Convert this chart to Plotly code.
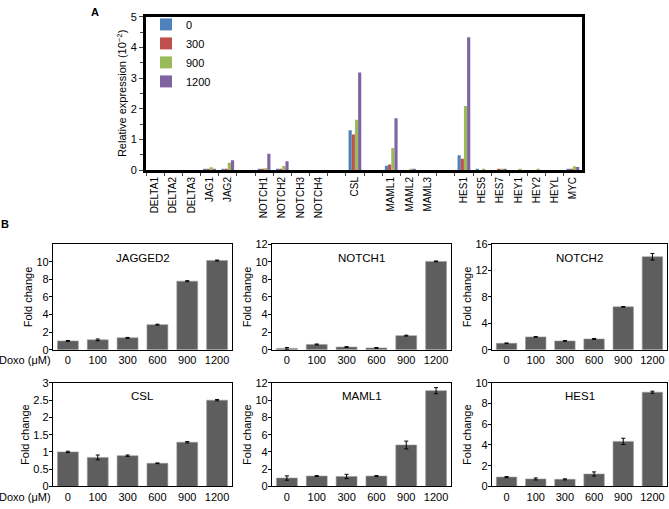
import plotly.graph_objects as go

# ---- panel A data (relative expression, x10^-2) ----
genes = ["DELTA1", "DELTA2", "DELTA3", "JAG1", "JAG2", " ",
         "NOTCH1", "NOTCH2", "NOTCH3", "NOTCH4", "  ",
         "CSL", "   ", "MAML1", "MAML2", "MAML3", "    ",
         "HES1", "HES5", "HES7", "HEY1", "HEY2", "HEYL", "MYC"]
doses_a = ["0", "300", "900", "1200"]
expr_0 = [0.0, 0.0, 0.0, 0.01, 0.01, None, 0.01, 0.02, 0.0, 0.0, None,
          1.30, None, 0.14, 0.0, 0.0, None, 0.48, 0.01, 0.0, 0.0, 0.0, 0.0, 0.01]
expr_300 = [0.0, 0.0, 0.0, 0.01, 0.02, None, 0.01, 0.02, 0.0, 0.0, None,
            1.16, None, 0.18, 0.0, 0.0, None, 0.37, 0.0, 0.01, 0.0, 0.0, 0.0, 0.01]
expr_900 = [0.0, 0.0, 0.0, 0.09, 0.24, None, 0.06, 0.13, 0.0, 0.0, None,
            1.64, None, 0.72, 0.02, 0.0, None, 2.09, 0.01, 0.03, 0.02, 0.02, 0.0, 0.12]
expr_1200 = [0.0, 0.0, 0.0, 0.04, 0.32, None, 0.53, 0.29, 0.0, 0.0, None,
             3.18, None, 1.69, 0.01, 0.0, None, 4.33, 0.0, 0.01, 0.0, 0.0, 0.0, 0.10]
colors_a = ["#4F81BD", "#C0504D", "#9BBB59", "#8064A2"]

# ---- panel B data (fold change) ----
doxo = ["0", "100", "300", "600", "900", "1200"]
panels = ["JAGGED2", "NOTCH1", "NOTCH2", "CSL", "MAML1", "HES1"]
jag2 = [1.0, 1.12, 1.35, 2.85, 7.8, 10.15]
jag2_err = [0.05, 0.1, 0.05, 0.05, 0.05, 0.05]
notch1 = [0.15, 0.6, 0.3, 0.2, 1.6, 10.05]
notch1_err = [0.1, 0.05, 0.05, 0.05, 0.05, 0.05]
notch2 = [0.97, 1.94, 1.33, 1.63, 6.5, 14.1]
notch2_err = [0.05, 0.05, 0.05, 0.08, 0.05, 0.5]
csl = [1.0, 0.84, 0.89, 0.67, 1.28, 2.5]
csl_err = [0.02, 0.07, 0.02, 0.01, 0.02, 0.02]
maml1 = [0.97, 1.2, 1.15, 1.2, 4.8, 11.1]
maml1_err = [0.25, 0.05, 0.25, 0.05, 0.45, 0.35]
hes1 = [0.9, 0.72, 0.68, 1.2, 4.35, 9.1]
hes1_err = [0.05, 0.1, 0.05, 0.2, 0.3, 0.1]
values_b = [jag2, notch1, notch2, csl, maml1, hes1]
errors_b = [jag2_err, notch1_err, notch2_err, csl_err, maml1_err, hes1_err]
yranges = [[0, 12], [0, 12], [0, 16], [0, 3], [0, 12], [0, 10]]
ytickvals = [[0, 2, 4, 6, 8, 10], [0, 2, 4, 6, 8, 10, 12], [0, 4, 8, 12, 16],
             [0, 0.5, 1, 1.5, 2, 2.5, 3], [0, 2, 4, 6, 8, 10, 12], [0, 2, 4, 6, 8, 10]]

W, H = 669, 509
FONT = "Arial, Liberation Sans, sans-serif"


def fx(px):
    return px / W


def fy(px):
    return 1 - px / H


fig = go.Figure()

for name, vals, col in zip(doses_a, [expr_0, expr_300, expr_900, expr_1200], colors_a):
    fig.add_trace(go.Bar(x=genes, y=vals, name=name, marker=dict(color=col, line=dict(width=0)),
                         xaxis="x", yaxis="y"))

# panel B domains (pixels)
cols_px = [(53, 232), (272, 451), (492, 667)]
rows_px = [(244, 352), (386, 492)]

layout_axes = {}
annots = []
for i in range(6):
    r, c = divmod(i, 3)
    n = i + 2
    fig.add_trace(go.Bar(
        x=doxo, y=values_b[i], showlegend=False,
        marker=dict(color="#5e5e5e", line=dict(color="#9a9a9a", width=0.6)),
        error_y=dict(type="data", array=errors_b[i], color="black", thickness=1, width=2),
        xaxis="x%d" % n, yaxis="y%d" % n))
    layout_axes["xaxis%d" % n] = dict(
        domain=[fx(cols_px[c][0]), fx(cols_px[c][1])], anchor="y%d" % n,
        showline=True, linecolor="black", linewidth=1.3, mirror=True,
        ticks="", tickfont=dict(size=11, color="black"), showgrid=False)
    layout_axes["yaxis%d" % n] = dict(
        domain=[fy(rows_px[r][1]), fy(rows_px[r][0])], anchor="x%d" % n,
        range=yranges[i], tickvals=ytickvals[i],
        showline=True, linecolor="black", linewidth=1.3, mirror=True,
        ticks="outside", ticklen=3, tickcolor="black", ticklabelstandoff=-2,
        tickfont=dict(size=11, color="black"), showgrid=False, zeroline=False,
        title=dict(text="Fold change", font=dict(size=11, color="black"), standoff=1))
    annots.append(dict(text=panels[i], xref="x%d domain" % n, yref="y%d domain" % n,
                       x=0.5, y=0.87, xanchor="center", yanchor="middle",
                       showarrow=False, font=dict(size=11.5, color="black")))

for ypx in [363, 503]:
    annots.append(dict(text="Doxo (μM)", xref="paper", yref="paper", x=fx(53), y=fy(ypx),
                       xanchor="right", yanchor="middle", showarrow=False,
                       font=dict(size=11, color="black")))

annots.append(dict(text="<b>A</b>", xref="paper", yref="paper", x=fx(95), y=fy(6),
                   xanchor="center", yanchor="middle",
                   showarrow=False, font=dict(size=11, color="black")))
annots.append(dict(text="<b>B</b>", xref="paper", yref="paper", x=fx(5), y=fy(223),
                   xanchor="center", yanchor="middle",
                   showarrow=False, font=dict(size=11, color="black")))

fig.update_layout(
    width=W, height=H,
    margin=dict(l=0, r=0, t=0, b=0),
    paper_bgcolor="white", plot_bgcolor="white",
    font=dict(family=FONT, color="black"),
    barmode="group", bargap=0.3, bargroupgap=0,
    xaxis=dict(domain=[fx(146), fx(582)], anchor="y",
               showline=True, linecolor="black", linewidth=3, mirror=True,
               tickangle=-90, tickfont=dict(size=10, color="black"),
               ticks="outside", tickson="boundaries", ticklen=3, showgrid=False),
    yaxis=dict(domain=[fy(168), fy(11)], anchor="x", range=[0, 5], dtick=1,
               showline=True, linecolor="black", linewidth=3, mirror=True,
               ticks="outside", ticklen=4, tickfont=dict(size=11, color="black"),
               minor=dict(dtick=0.5, ticks="outside", ticklen=3, showgrid=False),
               showgrid=False, zeroline=False,
               title=dict(text="Relative expression (10<sup>−2</sup>)",
                          font=dict(size=11, color="black"), standoff=2)),
    legend=dict(x=fx(146), y=fy(4), xanchor="left", yanchor="top",
                bgcolor="rgba(0,0,0,0)", font=dict(size=11, color="black"),
                tracegroupgap=0),
    annotations=annots,
    **layout_axes)

fig.write_html("out.html", config={"displayModeBar": False},
               post_script="document.body.style.margin='0';")
